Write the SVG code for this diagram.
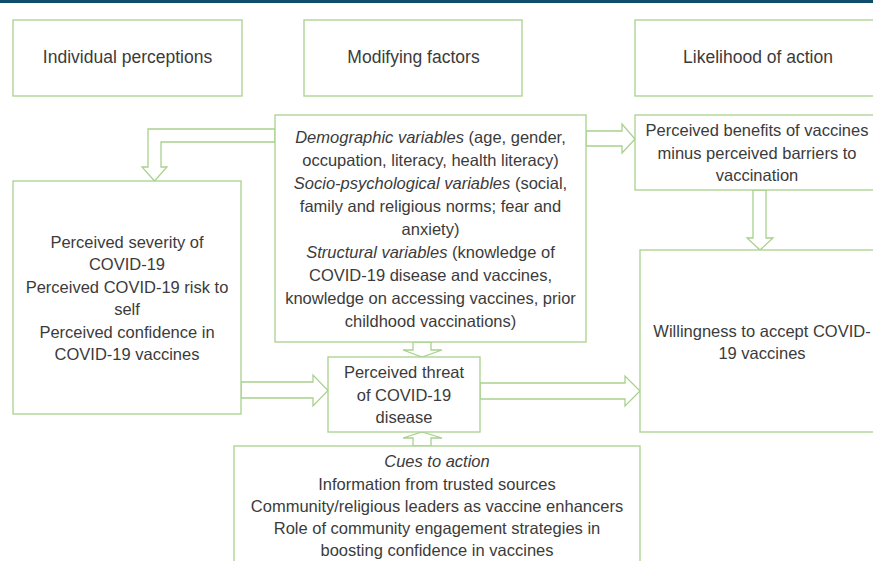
<svg xmlns="http://www.w3.org/2000/svg" width="873" height="561" viewBox="0 0 873 561">
<style>
.box{fill:#fff;stroke:#a9d18e;stroke-width:1.3}
.arr{fill:#fff;stroke:#a9d18e;stroke-width:1.3;stroke-linejoin:miter}
text{font-family:"Liberation Sans",Arial,sans-serif;font-size:16.5px;fill:#3b3b3b;text-anchor:middle}
.h{font-size:17.5px}
.i{font-style:italic}
</style>
<rect x="0" y="0" width="873" height="561" fill="#fff"/>
<rect x="0" y="0" width="873" height="3" fill="#0f4c6b"/>
<g id="hdr-individual"><rect class="box" x="13" y="20" width="229" height="76"/><text class="h" x="127.5" y="63">Individual perceptions</text></g>
<g id="hdr-modifying"><rect class="box" x="304" y="20" width="218" height="76"/><text class="h" x="413.5" y="63">Modifying factors</text></g>
<g id="hdr-likelihood"><rect class="box" x="635" y="20" width="250" height="76"/><text class="h" x="758" y="63">Likelihood of action</text></g>
<g id="connectors">
<polygon class="arr" points="275,129 148,129 148,167 142,167 154.5,181 167,167 161,167 161,142 275,142"/>
<polygon class="arr" points="586,131 622,131 622,124 635,139 622,153 622,146 586,146"/>
<polygon class="arr" points="753,190 753,238 747,238 760,250 773,238 766,238 766,190"/>
<polygon class="arr" points="413,342 413,350 403,350 422,357 442,350 431,350 431,342"/>
<polygon class="arr" points="241,382 313,382 313,375 328,390.5 313,406 313,398 241,398"/>
<polygon class="arr" points="480,383 625,383 625,376 640,391 625,406 625,399 480,399"/>
<polygon class="arr" points="413,446 413,438 403,438 422,432 442,438 431,438 431,446"/>
</g>
<g id="modifying">
<rect class="box" x="275" y="115" width="311" height="227"/>
<text x="430.5" y="142.5"><tspan class="i">Demographic variables</tspan> (age, gender,</text>
<text x="430.5" y="165.5">occupation, literacy, health literacy)</text>
<text x="430.5" y="188.5"><tspan class="i">Socio-psychological variables</tspan> (social,</text>
<text x="430.5" y="211.5">family and religious norms; fear and</text>
<text x="430.5" y="234.5">anxiety)</text>
<text x="430.5" y="257.5"><tspan class="i">Structural variables</tspan> (knowledge of</text>
<text x="430.5" y="280.5">COVID-19 disease and vaccines,</text>
<text x="430.5" y="303.5">knowledge on accessing vaccines, prior</text>
<text x="430.5" y="326.5">childhood vaccinations)</text>
</g>
<g id="individual">
<rect class="box" x="13" y="181" width="228" height="233"/>
<text x="127" y="248">Perceived severity of</text>
<text x="127" y="270">COVID-19</text>
<text x="127" y="293">Perceived COVID-19 risk to</text>
<text x="127" y="315">self</text>
<text x="127" y="338">Perceived confidence in</text>
<text x="127" y="360">COVID-19 vaccines</text>
</g>
<g id="benefits">
<rect class="box" x="635" y="115" width="250" height="75"/>
<text x="757" y="136">Perceived benefits of vaccines</text>
<text x="757" y="158.5">minus perceived barriers to</text>
<text x="757" y="181">vaccination</text>
</g>
<g id="willingness">
<rect class="box" x="640" y="250" width="245" height="182"/>
<text x="762" y="337">Willingness to accept COVID-</text>
<text x="762" y="359">19 vaccines</text>
</g>
<g id="threat">
<rect class="box" x="328" y="357" width="152" height="75"/>
<text x="404" y="378">Perceived threat</text>
<text x="404" y="400.5">of COVID-19</text>
<text x="404" y="423">disease</text>
</g>
<g id="cues">
<rect class="box" x="234" y="446" width="406" height="125"/>
<text class="i" x="437" y="467">Cues to action</text>
<text x="437" y="490">Information from trusted sources</text>
<text x="437" y="512">Community/religious leaders as vaccine enhancers</text>
<text x="437" y="534">Role of community engagement strategies in</text>
<text x="437" y="556">boosting confidence in vaccines</text>
</g>
</svg>
